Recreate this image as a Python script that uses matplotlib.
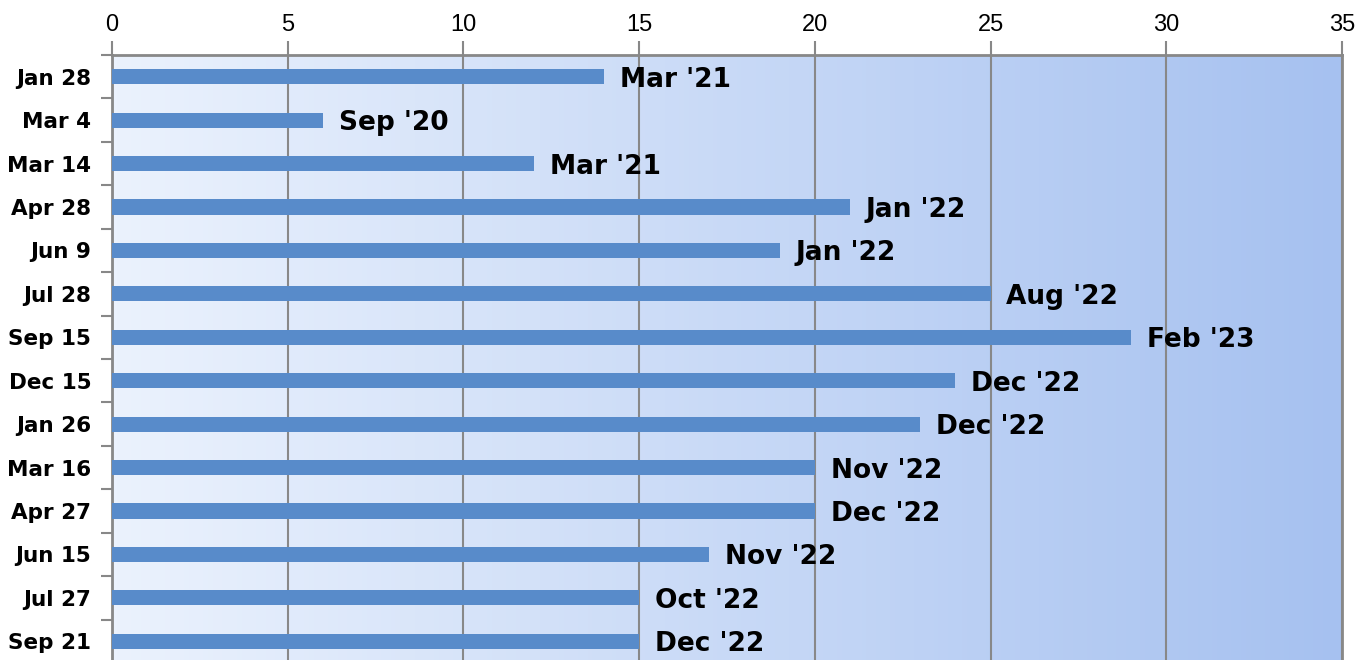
import numpy as np
import matplotlib.pyplot as plt
from matplotlib.colors import LinearSegmentedColormap

CATEGORIES = ['Jan 28', 'Mar 4', 'Mar 14', 'Apr 28', 'Jun 9', 'Jul 28', 'Sep 15',
              'Dec 15', 'Jan 26', 'Mar 16', 'Apr 27', 'Jun 15', 'Jul 27', 'Sep 21']
VALUES = [14, 6, 12, 21, 19, 25, 29, 24, 23, 20, 20, 17, 15, 15]
END_LABELS = ["Mar '21", "Sep '20", "Mar '21", "Jan '22", "Jan '22", "Aug '22", "Feb '23",
              "Dec '22", "Dec '22", "Nov '22", "Dec '22", "Nov '22", "Oct '22", "Dec '22"]
XTICKS = [0, 5, 10, 15, 20, 25, 30, 35]


def main():
    fig = plt.figure(figsize=(13.71, 6.6), dpi=100)
    ax = fig.add_axes([112 / 1371, -3 / 660, (1342 - 112) / 1371, (663 - 55) / 660])

    n = len(CATEGORIES)
    y = np.arange(n)

    # gradient background
    cmap = LinearSegmentedColormap.from_list('bg', ['#ebf2fd', '#a6c1f0'])
    grad = np.linspace(0, 1, 256).reshape(1, -1)
    ax.imshow(grad, cmap=cmap, aspect='auto', extent=(0, 35, n - 0.5, -0.5), zorder=0)

    ax.barh(y, VALUES, height=0.35, color='#588bca', zorder=3)
    for yi, v, lab in zip(y, VALUES, END_LABELS):
        ax.text(v + 0.45, yi + 0.07, lab, va='center', ha='left', fontsize=19,
                fontweight='bold', color='black', zorder=4)

    ax.set_xlim(0, 35)
    ax.set_ylim(n - 0.5, -0.5)
    ax.xaxis.tick_top()
    ax.set_xticks(XTICKS)
    ax.set_xticklabels([str(t) for t in XTICKS], fontsize=17, family='Liberation Sans')
    ax.tick_params(axis='x', length=10, width=1.5, color='#888888', pad=4)
    ax.set_yticks(y)
    ax.set_yticklabels(CATEGORIES, fontsize=15.5, fontweight='bold')
    ax.tick_params(axis='y', length=0, pad=15)
    ax.set_yticks(np.arange(-0.5, n, 1), minor=True)
    ax.tick_params(axis='y', which='minor', length=8, width=1.5, color='#888888')

    ax.grid(axis='x', color='#888888', linewidth=1.5, zorder=1)
    ax.set_axisbelow(False)
    for line in ax.get_xgridlines():
        line.set_zorder(1)
    for side in ['top', 'left', 'right']:
        ax.spines[side].set_color('#888888')
        ax.spines[side].set_linewidth(2)
    ax.spines['bottom'].set_visible(False)

    fig.savefig('out.png', dpi=100)


if __name__ == '__main__':
    main()
